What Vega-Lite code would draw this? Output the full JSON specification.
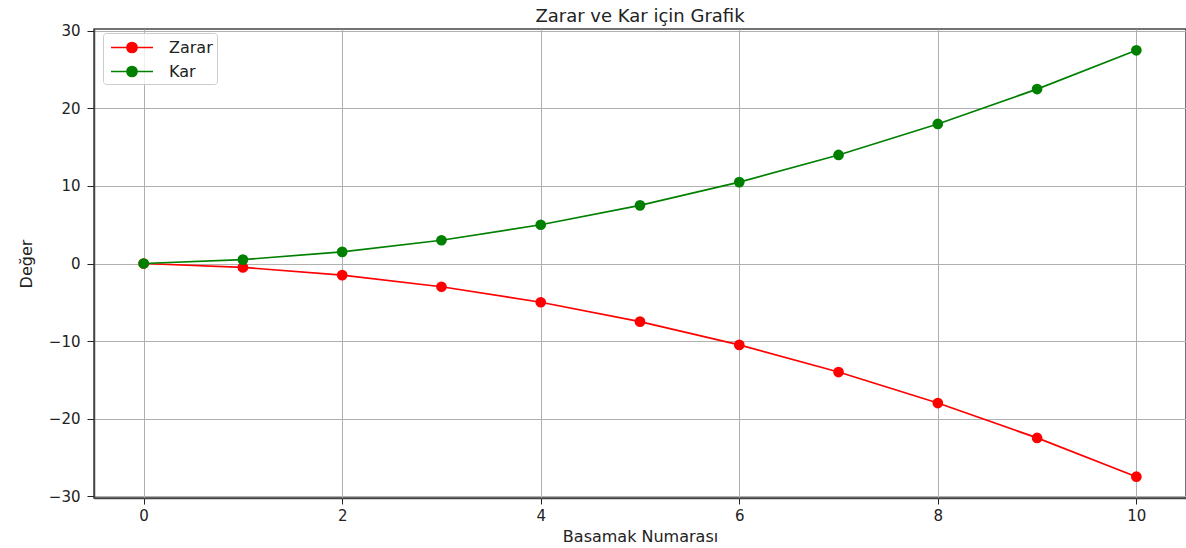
{
  "$schema": "https://vega.github.io/schema/vega-lite/v6.json",
  "autosize": "none",
  "width": 1092,
  "height": 469,
  "padding": {"left": 94, "top": 29, "right": 0, "bottom": 50},
  "background": "white",
  "title": {"text": "Zarar ve Kar için Grafik", "font": "DejaVu Sans", "fontSize": 18, "fontWeight": "normal", "color": "#222", "offset": -2},
  "data": {"values": [
    {"adim": 0, "deger": 0, "seri": "Zarar"},
    {"adim": 1, "deger": -0.5, "seri": "Zarar"},
    {"adim": 2, "deger": -1.5, "seri": "Zarar"},
    {"adim": 3, "deger": -3, "seri": "Zarar"},
    {"adim": 4, "deger": -5, "seri": "Zarar"},
    {"adim": 5, "deger": -7.5, "seri": "Zarar"},
    {"adim": 6, "deger": -10.5, "seri": "Zarar"},
    {"adim": 7, "deger": -14, "seri": "Zarar"},
    {"adim": 8, "deger": -18, "seri": "Zarar"},
    {"adim": 9, "deger": -22.5, "seri": "Zarar"},
    {"adim": 10, "deger": -27.5, "seri": "Zarar"},
    {"adim": 0, "deger": 0, "seri": "Kar"},
    {"adim": 1, "deger": 0.5, "seri": "Kar"},
    {"adim": 2, "deger": 1.5, "seri": "Kar"},
    {"adim": 3, "deger": 3, "seri": "Kar"},
    {"adim": 4, "deger": 5, "seri": "Kar"},
    {"adim": 5, "deger": 7.5, "seri": "Kar"},
    {"adim": 6, "deger": 10.5, "seri": "Kar"},
    {"adim": 7, "deger": 14, "seri": "Kar"},
    {"adim": 8, "deger": 18, "seri": "Kar"},
    {"adim": 9, "deger": 22.5, "seri": "Kar"},
    {"adim": 10, "deger": 27.5, "seri": "Kar"}
  ]},
  "mark": {"type": "line", "strokeWidth": 1.7, "point": {"filled": true, "size": 115, "opacity": 1}},
  "encoding": {
    "x": {"field": "adim", "type": "quantitative",
      "scale": {"domain": [-0.5, 10.5], "nice": false, "zero": false},
      "axis": {"title": "Basamak Numarası", "values": [0, 2, 4, 6, 8, 10], "format": "d", "titlePadding": 5, "tickSize": 6, "labelPadding": 4}},
    "y": {"field": "deger", "type": "quantitative",
      "scale": {"domain": [-30.25, 30.25], "nice": false, "zero": false},
      "axis": {"title": "Değer", "values": [-30, -20, -10, 0, 10, 20, 30], "format": "d", "titlePadding": 14, "tickSize": 7, "labelPadding": 7,
        "labelExpr": "replace(datum.label, '-', '−')"}},
    "color": {"field": "seri", "type": "nominal",
      "scale": {"domain": ["Zarar", "Kar"], "range": ["#ff0000", "#008000"]},
      "legend": {"title": null, "orient": "none", "legendX": 9, "legendY": 4,
        "symbolType": "M-0.684,0H3.737M2.052,0A0.526,0.526,0,1,1,1,0A0.526,0.526,0,1,1,2.052,0Z",
        "symbolSize": 361, "symbolStrokeWidth": 1.7,
        "labelFont": "DejaVu Sans", "labelFontSize": 16, "labelColor": "#222", "labelOffset": 41,
        "rowPadding": 5, "padding": 4, "strokeColor": "#cccccc", "fillColor": "rgba(255,255,255,0.8)", "cornerRadius": 3,
        "encode": {"symbols": {"update": {"fill": {"scale": "color", "field": "value"}, "stroke": {"scale": "color", "field": "value"}}}}}}
  },
  "config": {
    "view": {"stroke": "#444", "strokeWidth": 1.5},
    "axis": {"labelFont": "DejaVu Sans", "labelFontSize": 15, "labelColor": "#222", "titleFont": "DejaVu Sans", "titleFontSize": 16, "titleFontWeight": "normal", "titleColor": "#222",
      "grid": true, "gridColor": "#b0b0b0", "gridWidth": 1, "domainColor": "#444", "domainWidth": 1.5, "tickColor": "#222"}
  }
}
